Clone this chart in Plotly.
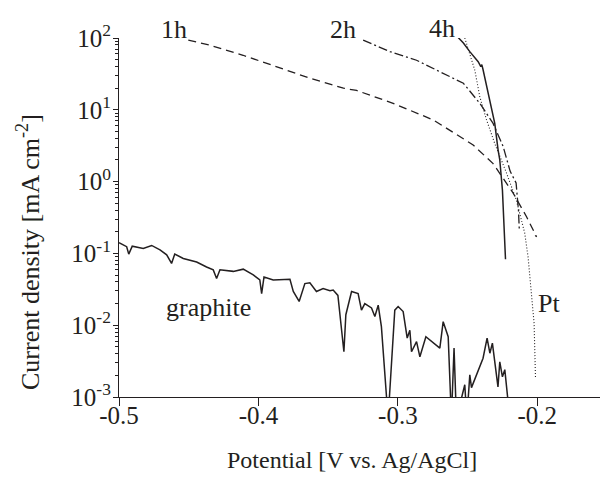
import plotly.graph_objects as go

# ---- data (potential in V vs Ag/AgCl, current density in mA cm^-2) ----
h1_x = [-0.4503, -0.4348, -0.411, -0.387, -0.363, -0.339, -0.3296, -0.3034, -0.2747,
        -0.246, -0.2317, -0.2173, -0.2077, -0.2005, -0.2015]
h1_y = [93.3, 79.4, 57.5, 39.8, 27.5, 20.0, 18.6, 12.3, 7.24,
        3.24, 1.78, 0.692, 0.324, 0.170, 0.178]

h2_x = [-0.3249, -0.3057, -0.2866, -0.2675, -0.253, -0.2412, -0.2317, -0.2245,
        -0.2195, -0.2152, -0.2135, -0.2129]
h2_y = [93.3, 64.6, 49.0, 32.4, 23.4, 12.3, 6.46, 3.09,
        1.40, 0.955, 0.40, 0.214]

h4_x = [-0.2568, -0.2530, -0.2484, -0.2424, -0.2405, -0.2398, -0.2390, -0.2353,
        -0.2305, -0.2281, -0.2269, -0.2250, -0.2240, -0.2228]
h4_y = [102.0, 85.0, 64.6, 46.8, 40.0, 42.5, 37.0, 17.0,
        6.46, 2.75, 2.0, 0.76, 0.30, 0.083]

pt_x = [-0.2520, -0.2484, -0.2448, -0.2412, -0.2364, -0.2305, -0.2221, -0.2150,
        -0.2090, -0.2066, -0.2042, -0.2023, -0.2013]
pt_y = [100.0, 61.7, 35.5, 15.1, 7.24, 3.39, 1.32, 0.550,
        0.191, 0.0891, 0.0309, 0.0107, 0.0019]

gr_x = [-0.5, -0.4945, -0.493, -0.4905, -0.4826, -0.4766, -0.4706, -0.4658, -0.4623,
        -0.4600, -0.4539, -0.4443, -0.4372, -0.4324, -0.4300, -0.4276, -0.4180,
        -0.4109, -0.4037, -0.3990, -0.3977, -0.3960, -0.3894, -0.3774, -0.3750,
        -0.3708, -0.3667, -0.3631, -0.3584, -0.3536, -0.3487, -0.3464, -0.3430,
        -0.3416, -0.3387, -0.3373, -0.3332, -0.3285, -0.3261, -0.3237, -0.3189,
        -0.3165, -0.3141, -0.3118, -0.3070, -0.3022, -0.2998, -0.2962, -0.2933,
        -0.2914, -0.2902, -0.2866, -0.2842, -0.2799, -0.2699, -0.2675, -0.2639,
        -0.2616, -0.2597, -0.2580, -0.2520, -0.2505, -0.2484, -0.2472, -0.2389,
        -0.2360, -0.2340, -0.2322, -0.2282, -0.2269, -0.2250, -0.2233, -0.2197]
gr_y = [0.141, 0.124, 0.0977, 0.126, 0.117, 0.129, 0.112, 0.0955, 0.0724,
        0.0980, 0.0851, 0.0759, 0.0646, 0.0589, 0.0447, 0.0590, 0.0562,
        0.0603, 0.0501, 0.0427, 0.0275, 0.0470, 0.0427, 0.0437, 0.0295,
        0.0214, 0.0380, 0.0389, 0.0295, 0.0324, 0.0302, 0.0309, 0.0260,
        0.0148, 0.00427, 0.0140, 0.0295, 0.0275, 0.0162, 0.0200, 0.0174,
        0.0132, 0.0190, 0.00955, 0.0005, 0.0162, 0.0182, 0.0155, 0.00661,
        0.0085, 0.00427, 0.00589, 0.00363, 0.00692, 0.00479, 0.0112, 0.00692,
        0.0005, 0.00479, 0.0005, 0.00148, 0.0005, 0.00204, 0.00135, 0.00347,
        0.00661, 0.00407, 0.00562, 0.00138, 0.00309, 0.00191, 0.00240, 0.0005]

y_tickvals = [1e-3, 1e-2, 1e-1, 1e0, 1e1, 1e2]
y_ticktext = ["10<sup>-3</sup>", "10<sup>-2</sup>", "10<sup>-1</sup>",
              "10<sup>0</sup>", "10<sup>1</sup>", "10<sup>2</sup>"]
x_tickvals = [-0.5, -0.4, -0.3, -0.2]
x_ticktext = ["-0.5", "-0.4", "-0.3", "-0.2"]

labels = ["1h", "2h", "4h", "Pt", "graphite"]
label_px = [174, 343, 442, 549, 208]   # label centres in window pixels
label_py = [30, 30, 29, 303, 307]

INK = "#231f20"
FONT = "Liberation Serif"
OFF = 8                      # default page body margin
W, H = 600, 471              # figure size so that page fits the 608x479 window
L, T = 119 - OFF, 38 - OFF   # plot area left / top in figure pixels
R = W - (607 - OFF)
B = H - (397 - OFF)
PW, PH = W - L - R, H - T - B


def px2paper(px, py):
    """window pixel -> paper coordinate"""
    fx, fy = px - OFF, py - OFF
    return (fx - L) / PW, (H - B - fy) / PH


fig = go.Figure()
fig.add_trace(go.Scatter(x=h1_x, y=h1_y, mode="lines",
                         line=dict(color=INK, width=1.3, dash="8px,5px")))
fig.add_trace(go.Scatter(x=h2_x, y=h2_y, mode="lines",
                         line=dict(color=INK, width=1.3, dash="9px,3px,2px,3px")))
fig.add_trace(go.Scatter(x=pt_x, y=pt_y, mode="lines",
                         line=dict(color=INK, width=1.1, dash="1px,2px")))
fig.add_trace(go.Scatter(x=h4_x, y=h4_y, mode="lines",
                         line=dict(color=INK, width=1.5)))
fig.add_trace(go.Scatter(x=gr_x, y=gr_y, mode="lines",
                         line=dict(color=INK, width=1.5)))

minor_vals = [m * 10 ** e for e in range(-3, 2) for m in range(2, 10)]

fig.update_xaxes(range=[-0.5, -0.15], showline=True, linecolor=INK, linewidth=1.2,
                 ticks="outside", ticklen=8, tickwidth=1.2, tickcolor=INK,
                 tickvals=x_tickvals, ticktext=x_ticktext, showgrid=False,
                 zeroline=False, automargin=False, ticklabelstandoff=-12,
                 tickfont=dict(family=FONT, size=25, color=INK))
fig.update_yaxes(type="log", range=[-3, 2], showline=True, linecolor=INK, linewidth=1.2,
                 ticks="outside", ticklen=5, tickwidth=1.2, tickcolor=INK,
                 tickvals=y_tickvals, ticktext=y_ticktext, showgrid=False,
                 zeroline=False, automargin=False, ticklabelstandoff=-3,
                 tickfont=dict(family=FONT, size=25, color=INK),
                 minor=dict(ticks="outside", ticklen=3, tickwidth=1, tickcolor=INK,
                            tickvals=minor_vals, showgrid=False))

for t, lx, ly in zip(labels, label_px, label_py):
    ax, ay = px2paper(lx, ly)
    fig.add_annotation(x=ax, y=ay, xref="paper", yref="paper", text=t, showarrow=False,
                       xanchor="center", yanchor="middle",
                       font=dict(family=FONT, size=26, color=INK))

ax, ay = px2paper(352, 460)
fig.add_annotation(x=ax, y=ay, xref="paper", yref="paper",
                   text="Potential [V vs. Ag/AgCl]", showarrow=False,
                   xanchor="center", yanchor="middle",
                   font=dict(family=FONT, size=24, color=INK))
ax, ay = px2paper(28, 252)
fig.add_annotation(x=ax, y=ay, xref="paper", yref="paper",
                   text="Current density [mA cm<sup>-2</sup>]", showarrow=False,
                   xanchor="center", yanchor="middle",
                   textangle=-90, font=dict(family=FONT, size=26, color=INK))

fig.update_layout(template="none", width=W, height=H, showlegend=False,
                  margin=dict(l=L, r=R, t=T, b=B, autoexpand=False),
                  paper_bgcolor="white", plot_bgcolor="white")

fig.write_html("out.html")
